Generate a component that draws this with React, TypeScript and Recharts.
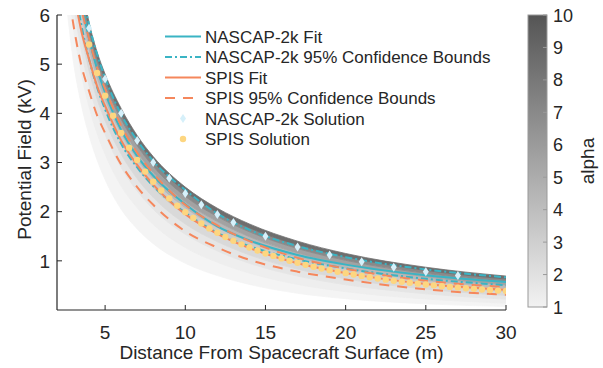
import { ComposedChart, Area, Line, Scatter, XAxis, YAxis } from "recharts";

const FONT = "'Liberation Sans', Arial, Helvetica, sans-serif";
const INK = "#262626";
const TEAL = "#3ab4c4";
const ORANGE = "#f5875c";
const YELLOW = "#fdd680";
const DIAMOND = "#d6f0fa";

// distance samples for the fitted curves and the alpha family (m)
const XS = [2.5, 3, 3.5, 4, 4.5, 5, 6, 7, 8, 10, 12, 14, 17, 20, 25, 30];

// potential (kV) for alpha = 1 .. 10
const ALPHA_1 = [6.5, 5.1, 4.2, 3.55, 3.05, 2.65, 2.05, 1.65, 1.35, 0.95, 0.7, 0.52, 0.34, 0.23, 0.125, 0.07];
const ALPHA_2 = [7.26, 5.79, 4.83, 4.13, 3.59, 3.17, 2.52, 2.08, 1.74, 1.27, 0.97, 0.75, 0.52, 0.373, 0.224, 0.139];
const ALPHA_3 = [7.82, 6.31, 5.3, 4.56, 4.0, 3.57, 2.9, 2.42, 2.05, 1.54, 1.2, 0.95, 0.69, 0.514, 0.33, 0.22];
const ALPHA_4 = [8.2, 6.67, 5.64, 4.86, 4.29, 3.85, 3.17, 2.67, 2.29, 1.75, 1.39, 1.12, 0.83, 0.634, 0.424, 0.296];
const ALPHA_5 = [8.51, 6.95, 5.91, 5.11, 4.53, 4.09, 3.4, 2.89, 2.49, 1.93, 1.54, 1.26, 0.96, 0.745, 0.515, 0.372];
const ALPHA_6 = [8.76, 7.19, 6.13, 5.32, 4.73, 4.29, 3.59, 3.07, 2.66, 2.08, 1.68, 1.39, 1.07, 0.85, 0.602, 0.447];
const ALPHA_7 = [8.96, 7.38, 6.31, 5.48, 4.89, 4.44, 3.75, 3.21, 2.8, 2.2, 1.8, 1.49, 1.16, 0.93, 0.676, 0.513];
const ALPHA_8 = [9.13, 7.54, 6.45, 5.62, 5.03, 4.58, 3.88, 3.34, 2.92, 2.31, 1.9, 1.59, 1.25, 1.01, 0.745, 0.575];
const ALPHA_9 = [9.26, 7.67, 6.58, 5.73, 5.14, 4.69, 3.99, 3.44, 3.02, 2.41, 1.98, 1.67, 1.32, 1.08, 0.805, 0.63];
const ALPHA_10 = [9.4, 7.8, 6.7, 5.85, 5.25, 4.8, 4.1, 3.55, 3.12, 2.5, 2.07, 1.75, 1.4, 1.15, 0.87, 0.69];

const NASCAP_FIT = [8.8, 7.35, 6.3, 5.52, 4.9, 4.42, 3.66, 3.13, 2.73, 2.15, 1.7, 1.415, 1.12, 0.923, 0.706, 0.567];
const NASCAP_UP = [9.2, 7.7, 6.6, 5.8, 5.2, 4.72, 3.98, 3.45, 3.03, 2.44, 1.96, 1.63, 1.3, 1.075, 0.825, 0.665];
const NASCAP_LOW = [8.15, 6.8, 5.83, 5.1, 4.53, 4.08, 3.38, 2.9, 2.52, 1.98, 1.57, 1.3, 1.03, 0.845, 0.635, 0.505];
const SPIS_FIT = [7.9, 6.6, 5.7, 5.1, 4.55, 4.15, 3.45, 2.95, 2.55, 1.95, 1.55, 1.26, 0.95, 0.75, 0.53, 0.41];
const SPIS_UP = [8.55, 7.15, 6.17, 5.52, 4.93, 4.5, 3.75, 3.2, 2.78, 2.14, 1.72, 1.4, 1.06, 0.84, 0.595, 0.465];
const SPIS_LOW = [7.0, 5.85, 5.0, 4.45, 3.96, 3.6, 2.96, 2.5, 2.14, 1.6, 1.27, 1.02, 0.78, 0.62, 0.42, 0.31];

// solver results
const NASCAP_SOL_X = [4, 5, 6, 7, 8, 9, 10, 11, 12, 13, 15, 17, 19, 21, 23, 25, 27];
const NASCAP_SOL_Y = [5.73, 4.7, 4.0, 3.45, 3.0, 2.68, 2.37, 2.14, 1.94, 1.78, 1.5, 1.28, 1.12, 0.98, 0.87, 0.78, 0.7];
const SPIS_SOL_X = [
  4, 4.5, 5, 5.5, 6, 6.5, 7, 7.5, 8, 8.5, 9, 9.5, 10, 10.5, 11, 11.5, 12, 12.5, 13, 13.5, 14, 14.5, 15, 15.5, 16, 16.5,
  17, 17.5, 18, 18.5, 19, 19.5, 20, 20.5, 21, 21.5, 22, 22.5, 23, 23.5, 24, 24.5, 25, 25.5, 26, 26.5, 27, 27.5, 28,
  28.5, 29, 29.5, 30,
];
const SPIS_SOL_Y = [
  5.4, 4.82, 4.36, 3.95, 3.6, 3.3, 3.05, 2.815, 2.61, 2.43, 2.27, 2.12, 1.99, 1.87, 1.76, 1.66, 1.57, 1.485, 1.41, 1.335,
  1.27, 1.21, 1.15, 1.1, 1.05, 1.003, 0.96, 0.918, 0.88, 0.844, 0.811, 0.779, 0.75, 0.721, 0.694, 0.665, 0.64, 0.617,
  0.596, 0.575, 0.555, 0.536, 0.518, 0.501, 0.485, 0.47, 0.456, 0.443, 0.43, 0.418, 0.406, 0.395, 0.385,
];

const X_TICKS = [5, 10, 15, 20, 25, 30];
const Y_TICKS = [1, 2, 3, 4, 5, 6];
const ALPHA_TICKS = [1, 2, 3, 4, 5, 6, 7, 8, 9, 10];

const ALPHAS = [ALPHA_1, ALPHA_2, ALPHA_3, ALPHA_4, ALPHA_5, ALPHA_6, ALPHA_7, ALPHA_8, ALPHA_9, ALPHA_10];
// fill of the band between alpha k and k+1
const BAND_COLORS = ["#f4f4f4", "#eeeeee", "#e5e5e5", "#d9d9d9", "#cacaca", "#b8b8b8", "#a2a2a2", "#898989", "#6e6e6e"];

const LEGEND = [
  { label: "NASCAP-2k Fit", kind: "line", color: TEAL, dash: undefined },
  { label: "NASCAP-2k 95% Confidence Bounds", kind: "line", color: TEAL, dash: "7 3 2 3" },
  { label: "SPIS Fit", kind: "line", color: ORANGE, dash: undefined },
  { label: "SPIS 95% Confidence Bounds", kind: "line", color: ORANGE, dash: "10 8" },
  { label: "NASCAP-2k Solution", kind: "diamond", color: DIAMOND, dash: undefined },
  { label: "SPIS Solution", kind: "dot", color: YELLOW, dash: undefined },
];

const W = 603;
const H = 368;
const PLOT = { left: 57, right: 506, top: 15, bottom: 310 };
const CBAR = { x: 528, y: 15, w: 19, h: 292 };

function Diamond(props: any) {
  const { cx, cy } = props;
  if (cx == null || cy == null) return null;
  return <polygon points={`${cx},${cy - 4.5} ${cx + 3},${cy} ${cx},${cy + 4.5} ${cx - 3},${cy}`} fill={DIAMOND} />;
}

function Dot(props: any) {
  const { cx, cy } = props;
  if (cx == null || cy == null) return null;
  return <circle cx={cx} cy={cy} r={3.2} fill={YELLOW} />;
}

export default function App() {
  const rows = XS.map((x, i) => {
    const row: any = {
      x,
      nFit: NASCAP_FIT[i],
      nUp: NASCAP_UP[i],
      nLow: NASCAP_LOW[i],
      sFit: SPIS_FIT[i],
      sUp: SPIS_UP[i],
      sLow: SPIS_LOW[i],
    };
    BAND_COLORS.forEach((_, k) => {
      row[`b${k}`] = [ALPHAS[k][i], ALPHAS[k + 1][i]];
    });
    return row;
  });
  const nascapSol = NASCAP_SOL_X.map((x, i) => ({ x, y: NASCAP_SOL_Y[i] }));
  const spisSol = SPIS_SOL_X.map((x, i) => ({ x, y: SPIS_SOL_Y[i] }));

  const tick = { fontSize: 19, fill: INK, fontFamily: FONT };
  const plotMidX = (PLOT.left + PLOT.right) / 2;
  const plotMidY = (PLOT.top + PLOT.bottom) / 2;
  const aToY = (a: number) => CBAR.y + CBAR.h - ((a - 1) / 9) * CBAR.h;

  return (
    <div style={{ position: "absolute", left: 0, top: 0, width: W, height: H, background: "#fff", fontFamily: FONT }}>
      <ComposedChart width={W} height={H} data={rows} margin={{ top: PLOT.top, right: W - PLOT.right, bottom: 0, left: 0 }}>
        <XAxis
          dataKey="x"
          type="number"
          domain={[2, 30]}
          ticks={X_TICKS}
          allowDataOverflow
          height={H - PLOT.bottom}
          tick={tick}
          tickSize={-5}
          tickMargin={21}
          stroke={INK}
          axisLine={{ stroke: INK, strokeWidth: 1.2 }}
          tickLine={{ stroke: INK }}
        />
        <YAxis
          type="number"
          domain={[0, 6]}
          ticks={Y_TICKS}
          allowDataOverflow
          width={PLOT.left}
          tick={tick}
          tickSize={-5}
          tickMargin={12}
          stroke={INK}
          axisLine={{ stroke: INK, strokeWidth: 1.2 }}
          tickLine={{ stroke: INK }}
        />
        {BAND_COLORS.map((c, k) => (
          <Area
            key={k}
            dataKey={`b${k}`}
            type="monotone"
            fill={c}
            fillOpacity={1}
            stroke={c}
            strokeWidth={0.8}
            dot={false}
            activeDot={false}
            isAnimationActive={false}
          />
        ))}
        <Line dataKey="nUp" type="monotone" stroke={TEAL} strokeWidth={2} strokeDasharray="7 3 2 3" dot={false} isAnimationActive={false} />
        <Line dataKey="nLow" type="monotone" stroke={TEAL} strokeWidth={2} strokeDasharray="7 3 2 3" dot={false} isAnimationActive={false} />
        <Line dataKey="nFit" type="monotone" stroke={TEAL} strokeWidth={2} dot={false} isAnimationActive={false} />
        <Line dataKey="sUp" type="monotone" stroke={ORANGE} strokeWidth={2} strokeDasharray="10 8" dot={false} isAnimationActive={false} />
        <Line dataKey="sLow" type="monotone" stroke={ORANGE} strokeWidth={2} strokeDasharray="10 8" dot={false} isAnimationActive={false} />
        <Line dataKey="sFit" type="monotone" stroke={ORANGE} strokeWidth={2} dot={false} isAnimationActive={false} />
        <Scatter data={nascapSol} dataKey="y" shape={Diamond} isAnimationActive={false} />
        <Scatter data={spisSol} dataKey="y" shape={Dot} isAnimationActive={false} />
      </ComposedChart>

      <svg width={W} height={H} style={{ position: "absolute", left: 0, top: 0, pointerEvents: "none" }} fontFamily={FONT}>
        <defs>
          <linearGradient id="alphaGrad" x1="0" y1="1" x2="0" y2="0">
            <stop offset="0" stopColor="#f2f2f2" />
            <stop offset="1" stopColor="#555555" />
          </linearGradient>
        </defs>
        {/* axis titles */}
        <text x={plotMidX} y={359} textAnchor="middle" fontSize={19} fill={INK}>
          Distance From Spacecraft Surface (m)
        </text>
        <text x={0} y={0} transform={`translate(31 ${plotMidY - 3}) rotate(-90)`} textAnchor="middle" fontSize={19} fill={INK}>
          Potential Field (kV)
        </text>

        {/* legend */}
        {LEGEND.map((item, i) => {
          const cy = 36.5 + i * 20.5;
          return (
            <g key={item.label}>
              {item.kind === "line" && (
                <line x1={165} x2={201} y1={cy} y2={cy} stroke={item.color} strokeWidth={2} strokeDasharray={item.dash} />
              )}
              {item.kind === "diamond" && <Diamond cx={183} cy={cy} />}
              {item.kind === "dot" && <Dot cx={183} cy={cy} />}
              <text x={205} y={cy + 6} fontSize={17} fill={INK}>
                {item.label}
              </text>
            </g>
          );
        })}

        {/* colorbar */}
        <rect x={CBAR.x} y={CBAR.y} width={CBAR.w} height={CBAR.h} fill="url(#alphaGrad)" stroke="#9a9a9a" strokeWidth={1} />
        {ALPHA_TICKS.map((a) => (
          <g key={a}>
            <line x1={CBAR.x + CBAR.w} x2={CBAR.x + CBAR.w - 4} y1={aToY(a)} y2={aToY(a)} stroke="#9a9a9a" />
            <text x={553} y={aToY(a) + 6.5} fontSize={18} fill={INK}>
              {a}
            </text>
          </g>
        ))}
        <text x={0} y={0} transform={`translate(594 ${aToY(5.5)}) rotate(-90)`} textAnchor="middle" fontSize={19} fill={INK}>
          alpha
        </text>
      </svg>
    </div>
  );
}
